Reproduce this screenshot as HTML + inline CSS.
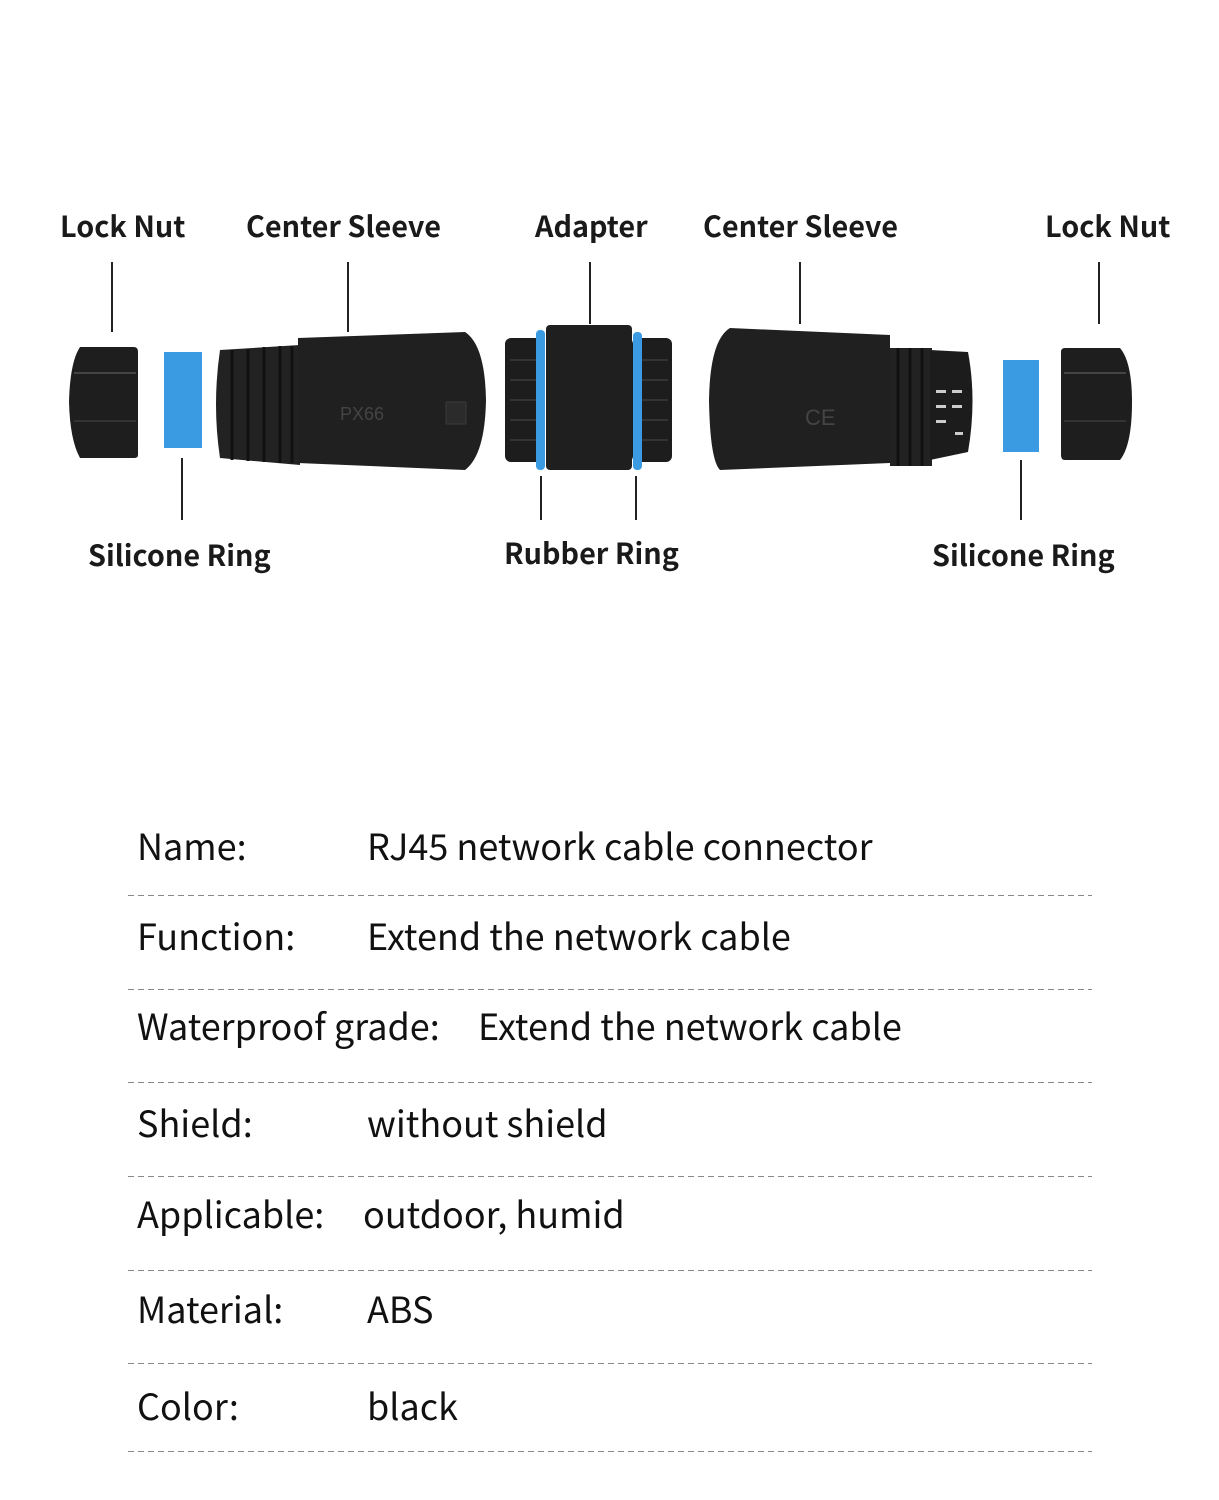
<!DOCTYPE html>
<html><head><meta charset="utf-8"><style>
html,body{margin:0;padding:0;background:#fff}
body{width:1219px;height:1500px;position:relative;overflow:hidden}
svg{position:absolute;left:0;top:0}
.l{font-family:"Noto Sans CJK SC","Liberation Sans",sans-serif;font-weight:bold;font-size:28.8px;fill:#1a1a1a}
.t{font-family:"Noto Sans CJK SC","Liberation Sans",sans-serif;font-size:36px;fill:#111}
</style></head><body>
<svg width="1219" height="1500" viewBox="0 0 1219 1500">
<g class="l">
<text x="60" y="237">Lock Nut</text>
<text x="246" y="237">Center Sleeve</text>
<text x="535" y="237">Adapter</text>
<text x="703" y="237">Center Sleeve</text>
<text x="1045" y="237">Lock Nut</text>
<text x="88" y="566">Silicone Ring</text>
<text x="504" y="564">Rubber Ring</text>
<text x="932" y="566">Silicone Ring</text>
</g>
<g stroke="#222" stroke-width="2">
<line x1="112" y1="262" x2="112" y2="332"/>
<line x1="348" y1="262" x2="348" y2="332"/>
<line x1="590" y1="262" x2="590" y2="324"/>
<line x1="800" y1="262" x2="800" y2="324"/>
<line x1="1099" y1="262" x2="1099" y2="324"/>
<line x1="182" y1="458" x2="182" y2="520"/>
<line x1="541" y1="476" x2="541" y2="520"/>
<line x1="636" y1="476" x2="636" y2="520"/>
<line x1="1021" y1="460" x2="1021" y2="520"/>
</g>
<path d="M80 347 H134 Q138 347 138 352 V455 Q138 458 134 458 H80 Q70 440 69 402 Q70 362 80 347Z" fill="#1e1e1e"/>
<rect x="74" y="372" width="62" height="2" fill="#444"/>
<rect x="74" y="420" width="62" height="2" fill="#333"/>
<rect x="164" y="352" width="38" height="96" fill="#3b9be2"/>
<path d="M220 350 L300 345 V465 L220 458 Q212 405 220 350Z" fill="#222"/>
<g stroke="#111" stroke-width="3">
<line x1="232" y1="350" x2="232" y2="460"/><line x1="248" y1="349" x2="248" y2="461"/><line x1="264" y1="347" x2="264" y2="462"/><line x1="280" y1="346" x2="280" y2="463"/><line x1="292" y1="346" x2="292" y2="463"/>
</g>
<path d="M298 338 L465 332 Q485 345 486 400 Q485 455 465 470 L298 463Z" fill="#202020"/>
<text x="340" y="420" font-family="Liberation Sans" font-size="18" fill="#444">PX66</text>
<rect x="446" y="402" width="20" height="22" fill="#2b2b2b" stroke="#3a3a3a"/>
<rect x="505" y="338" width="40" height="124" rx="6" fill="#1d1d1d"/>
<rect x="632" y="338" width="40" height="124" rx="6" fill="#1d1d1d"/>
<g stroke="#333" stroke-width="2">
<line x1="510" y1="360" x2="540" y2="360"/><line x1="510" y1="380" x2="540" y2="380"/><line x1="510" y1="400" x2="540" y2="400"/><line x1="510" y1="420" x2="540" y2="420"/><line x1="510" y1="440" x2="540" y2="440"/>
<line x1="638" y1="360" x2="668" y2="360"/><line x1="638" y1="380" x2="668" y2="380"/><line x1="638" y1="400" x2="668" y2="400"/><line x1="638" y1="420" x2="668" y2="420"/><line x1="638" y1="440" x2="668" y2="440"/>
</g>
<rect x="546" y="325" width="86" height="145" rx="4" fill="#1f1f1f"/>
<rect x="536" y="330" width="9" height="140" rx="4" fill="#3b9be2"/>
<rect x="633" y="332" width="9" height="138" rx="4" fill="#3b9be2"/>
<path d="M890 335 L730 328 Q710 340 709 400 Q710 460 720 470 L890 463Z" fill="#202020"/>
<text x="805" y="425" font-family="Liberation Sans" font-size="22" fill="#444">CE</text>
<rect x="890" y="348" width="42" height="118" fill="#222"/>
<g stroke="#111" stroke-width="3">
<line x1="898" y1="348" x2="898" y2="466"/><line x1="910" y1="348" x2="910" y2="466"/><line x1="922" y1="348" x2="922" y2="466"/>
</g>
<path d="M930 350 L968 352 Q977 400 968 452 L930 460Z" fill="#1c1c1c"/>
<g fill="#ccc"><rect x="936" y="390" width="10" height="3"/><rect x="952" y="390" width="10" height="3"/><rect x="936" y="405" width="10" height="3"/><rect x="952" y="405" width="10" height="3"/><rect x="936" y="420" width="10" height="3"/><rect x="955" y="432" width="8" height="3"/></g>
<rect x="1003" y="360" width="36" height="92" fill="#3b9be2"/>
<path d="M1065 348 H1120 Q1132 362 1132 402 Q1132 445 1120 460 H1065 Q1061 460 1061 455 V352 Q1061 348 1065 348Z" fill="#1e1e1e"/>
<rect x="1064" y="372" width="62" height="2" fill="#444"/>
<rect x="1064" y="420" width="62" height="2" fill="#333"/>
<g class="t">
<text x="137" y="860">Name:</text><text x="367" y="860">RJ45 network cable connector</text>
<text x="137" y="950">Function:</text><text x="367" y="950">Extend the network cable</text>
<text x="137" y="1040">Waterproof grade:</text><text x="478" y="1040">Extend the network cable</text>
<text x="137" y="1137">Shield:</text><text x="367" y="1137">without shield</text>
<text x="137" y="1228">Applicable:</text><text x="363" y="1228">outdoor, humid</text>
<text x="137" y="1323">Material:</text><text x="367" y="1323">ABS</text>
<text x="137" y="1420">Color:</text><text x="367" y="1420">black</text>
</g>
<g stroke="#888" stroke-width="1" stroke-dasharray="6,4">
<line x1="128" y1="895.5" x2="1092" y2="895.5"/>
<line x1="128" y1="989.5" x2="1092" y2="989.5"/>
<line x1="128" y1="1082.5" x2="1092" y2="1082.5"/>
<line x1="128" y1="1176.5" x2="1092" y2="1176.5"/>
<line x1="128" y1="1270.5" x2="1092" y2="1270.5"/>
<line x1="128" y1="1363.5" x2="1092" y2="1363.5"/>
<line x1="128" y1="1451.5" x2="1092" y2="1451.5"/>
</g>
</svg>
</body></html>
